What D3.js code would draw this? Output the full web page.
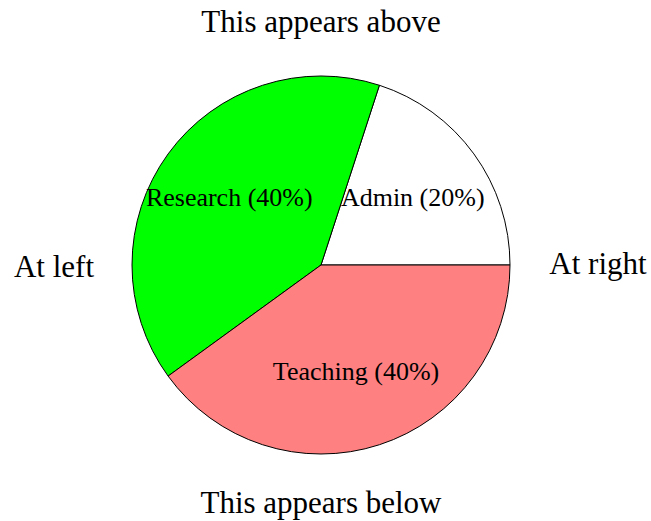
<!DOCTYPE html>
<html><head><meta charset="utf-8">
<script src="https://cdn.jsdelivr.net/npm/d3@7"></script>
<style>body{margin:0;background:#fff}svg{display:block}text{font-family:"Liberation Serif","Times New Roman",serif;fill:#000}</style>
</head><body>
<script>
const categories = ["Admin", "Research", "Teaching"];
const values = [20, 40, 40];
const colors = ["#ffffff", "#00ff00", "#ff8080"];
const titleAbove = "This appears above";
const titleBelow = "This appears below";
const labelLeft = "At left";
const labelRight = "At right";

const W = 651, H = 521, cx = 321, cy = 265, R = 189;
const svg = d3.select("body").append("svg").attr("width", W).attr("height", H);
const g = svg.append("g").attr("transform", `translate(${cx},${cy})`);

const data = categories.map((c, i) => ({c, v: values[i], col: colors[i]}));
const pie = d3.pie().value(d => d.v).sort(null).startAngle(Math.PI / 2).endAngle(Math.PI / 2 - 2 * Math.PI);
const arcs = pie(data);
const arc = d3.arc().innerRadius(0).outerRadius(R);
const labelArc = d3.arc().innerRadius(R * 0.6).outerRadius(R * 0.6);

g.selectAll("path").data(arcs).join("path")
  .attr("d", arc).attr("fill", d => d.data.col)
  .attr("stroke", "#000").attr("stroke-width", 1);

const total = d3.sum(values);
g.selectAll("text.lab").data(arcs).join("text").attr("class", "lab")
  .attr("transform", d => `translate(${labelArc.centroid(d)})`)
  .attr("text-anchor", "middle").attr("dy", "0.28em")
  .style("font-size", "26px")
  .text(d => `${d.data.c} (${Math.round(d.data.v / total * 100)}%)`);

svg.append("text").attr("x", cx).attr("y", 32).attr("text-anchor", "middle").style("font-size", "31px").text(titleAbove);
svg.append("text").attr("x", cx).attr("y", 513).attr("text-anchor", "middle").style("font-size", "31px").text(titleBelow);
svg.append("text").attr("x", 54).attr("y", 277).attr("text-anchor", "middle").style("font-size", "31px").text(labelLeft);
svg.append("text").attr("x", 598).attr("y", 274).attr("text-anchor", "middle").style("font-size", "31px").text(labelRight);
</script>
</body></html>
